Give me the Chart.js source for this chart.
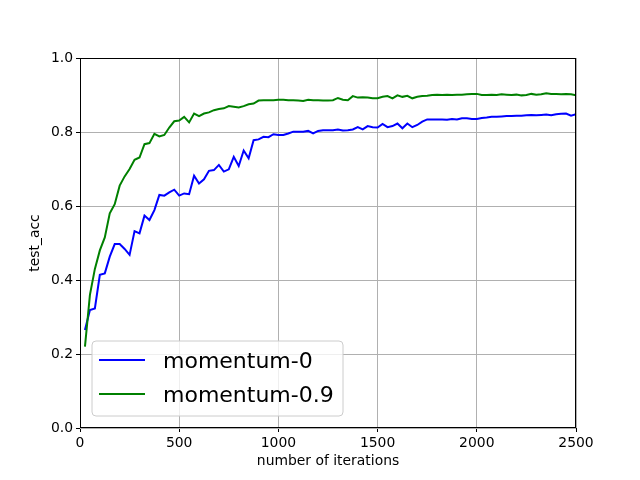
<!DOCTYPE html>
<html>
<head>
<meta charset="utf-8">
<script src="https://cdn.jsdelivr.net/npm/chart.js@4"></script>
<style>
	body { margin: 0; background: #fff; }
	canvas { display: block; }
</style>
</head>
<body>
<canvas id="accChart" width="640" height="480"></canvas>
<script>
// iterations (x values)
var iterations = [
	25, 50, 75, 100, 125, 150, 175, 200, 225, 250, 275, 300, 325, 350, 375, 400, 425, 450, 475, 500,
	525, 550, 575, 600, 625, 650, 675, 700, 725, 750, 775, 800, 825, 850, 875, 900, 925, 950, 975, 1000,
	1025, 1050, 1075, 1100, 1125, 1150, 1175, 1200, 1225, 1250, 1275, 1300, 1325, 1350, 1375, 1400, 1425, 1450, 1475, 1500,
	1525, 1550, 1575, 1600, 1625, 1650, 1675, 1700, 1725, 1750, 1775, 1800, 1825, 1850, 1875, 1900, 1925, 1950, 1975, 2000,
	2025, 2050, 2075, 2100, 2125, 2150, 2175, 2200, 2225, 2250, 2275, 2300, 2325, 2350, 2375, 2400, 2425, 2450, 2475, 2500
];

var accMomentum0 = [
	0.265, 0.319, 0.323, 0.414, 0.418, 0.463, 0.497, 0.497, 0.484, 0.468, 0.532, 0.526, 0.574, 0.562, 0.589, 0.630, 0.628, 0.637, 0.644, 0.628,
	0.634, 0.632, 0.682, 0.661, 0.672, 0.695, 0.697, 0.711, 0.693, 0.699, 0.733, 0.708, 0.750, 0.729, 0.778, 0.780, 0.787, 0.786, 0.794, 0.792,
	0.792, 0.796, 0.801, 0.801, 0.801, 0.803, 0.796, 0.803, 0.805, 0.805, 0.805, 0.807, 0.804, 0.805, 0.807, 0.813, 0.807, 0.816, 0.813, 0.812,
	0.822, 0.813, 0.816, 0.823, 0.810, 0.823, 0.813, 0.819, 0.828, 0.834, 0.834, 0.834, 0.834, 0.833, 0.835, 0.834, 0.837, 0.837, 0.835, 0.835,
	0.838, 0.839, 0.841, 0.841, 0.842, 0.843, 0.843, 0.844, 0.844, 0.845, 0.846, 0.845, 0.846, 0.847, 0.845, 0.848, 0.849, 0.850, 0.844, 0.848
];

var accMomentum09 = [
	0.220, 0.360, 0.430, 0.480, 0.515, 0.580, 0.605, 0.655, 0.680, 0.700, 0.725, 0.731, 0.767, 0.770, 0.795, 0.788, 0.792, 0.812, 0.829, 0.831,
	0.841, 0.826, 0.850, 0.843, 0.850, 0.853, 0.859, 0.862, 0.864, 0.870, 0.868, 0.866, 0.870, 0.875, 0.877, 0.885, 0.886, 0.886, 0.886, 0.887,
	0.887, 0.886, 0.886, 0.885, 0.884, 0.887, 0.886, 0.886, 0.885, 0.885, 0.886, 0.892, 0.887, 0.886, 0.897, 0.893, 0.894, 0.893, 0.891, 0.891,
	0.895, 0.897, 0.891, 0.899, 0.895, 0.898, 0.891, 0.895, 0.897, 0.898, 0.900, 0.901, 0.900, 0.901, 0.900, 0.901, 0.901, 0.902, 0.903, 0.903,
	0.900, 0.900, 0.901, 0.900, 0.902, 0.901, 0.900, 0.901, 0.899, 0.900, 0.903, 0.901, 0.902, 0.905, 0.903, 0.903, 0.902, 0.903, 0.902, 0.899
];

var xTicks = [0, 500, 1000, 1500, 2000, 2500];
var yTicks = [0.0, 0.2, 0.4, 0.6, 0.8, 1.0];

function toPoints(xs, ys) {
	var pts = [];
	for (var i = 0; i < xs.length; i++) {
		pts.push({ x: xs[i], y: ys[i] });
	}
	return pts;
}

var tickFont = { family: "'DejaVu Sans', sans-serif", size: 13.9 };

// black frame round the plot plus the legend box in the lower left
var framePlugin = {
	id: 'frame',
	afterDraw: function(chart) {
		var ctx = chart.ctx;
		var a = chart.chartArea;
		ctx.save();
		ctx.strokeStyle = '#000';
		ctx.lineWidth = 1;
		ctx.strokeRect(Math.round(a.left) + 0.5, Math.round(a.top) + 0.5,
			Math.round(a.right - a.left) - 1, Math.round(a.bottom - a.top) - 1);

		// legend
		var bx = 92, by = 341, bw = 251, bh = 75, r = 4;
		ctx.beginPath();
		ctx.moveTo(bx + r, by);
		ctx.arcTo(bx + bw, by, bx + bw, by + bh, r);
		ctx.arcTo(bx + bw, by + bh, bx, by + bh, r);
		ctx.arcTo(bx, by + bh, bx, by, r);
		ctx.arcTo(bx, by, bx + bw, by, r);
		ctx.closePath();
		ctx.fillStyle = 'rgba(255,255,255,0.8)';
		ctx.fill();
		ctx.strokeStyle = '#cccccc';
		ctx.stroke();

		var rows = [360, 394];
		ctx.font = "22px 'DejaVu Sans', sans-serif";
		ctx.textBaseline = 'alphabetic';
		chart.data.datasets.forEach(function(ds, i) {
			ctx.strokeStyle = ds.borderColor;
			ctx.lineWidth = 2;
			ctx.beginPath();
			ctx.moveTo(99, rows[i]);
			ctx.lineTo(145, rows[i]);
			ctx.stroke();
			ctx.fillStyle = '#000';
			ctx.fillText(ds.label, 163, rows[i] + 8);
		});
		ctx.restore();
	}
};

var ctx = document.getElementById('accChart').getContext('2d');
var chart = new Chart(ctx, {
	type: 'line',
	data: {
		datasets: [{
			label: 'momentum-0',
			data: toPoints(iterations, accMomentum0),
			borderColor: '#0000ff',
			backgroundColor: '#0000ff',
			borderWidth: 2,
			pointRadius: 0,
			tension: 0,
			fill: false,
			order: 1
		}, {
			label: 'momentum-0.9',
			data: toPoints(iterations, accMomentum09),
			borderColor: '#008000',
			backgroundColor: '#008000',
			borderWidth: 2,
			pointRadius: 0,
			tension: 0,
			fill: false,
			order: 0
		}]
	},
	options: {
		responsive: false,
		animation: false,
		devicePixelRatio: 1,
		layout: { padding: { left: 0, top: 58, right: 64, bottom: 0 } },
		plugins: {
			legend: { display: false },
			tooltip: { enabled: false }
		},
		scales: {
			x: {
				type: 'linear',
				min: 0,
				max: 2500,
				afterFit: function(scale) { scale.height = 52; },
				afterBuildTicks: function(scale) {
					scale.ticks = xTicks.map(function(v) { return { value: v }; });
				},
				grid: { color: '#b0b0b0', lineWidth: 1, tickColor: '#000', tickLength: 4, drawTicks: true },
				border: { display: false },
				ticks: {
					color: '#000',
					font: tickFont,
					padding: 3,
					maxRotation: 0,
					autoSkip: false,
					callback: function(v) { return String(v); }
				},
				title: {
					display: true,
					text: 'number of iterations',
					color: '#000',
					font: tickFont,
					padding: { top: 0, bottom: 10 }
				}
			},
			y: {
				min: 0,
				max: 1,
				afterFit: function(scale) { scale.width = 80; },
				afterBuildTicks: function(scale) {
					scale.ticks = yTicks.map(function(v) { return { value: v }; });
				},
				grid: { color: '#b0b0b0', lineWidth: 1, tickColor: '#000', tickLength: 4, drawTicks: true },
				border: { display: false },
				ticks: {
					color: '#000',
					font: tickFont,
					padding: 3,
					autoSkip: false,
					callback: function(v) { return v.toFixed(1); }
				},
				title: {
					display: true,
					text: 'test_acc',
					color: '#000',
					font: tickFont,
					padding: { top: 27, bottom: 0 }
				}
			}
		}
	},
	plugins: [framePlugin]
});
</script>
</body>
</html>
